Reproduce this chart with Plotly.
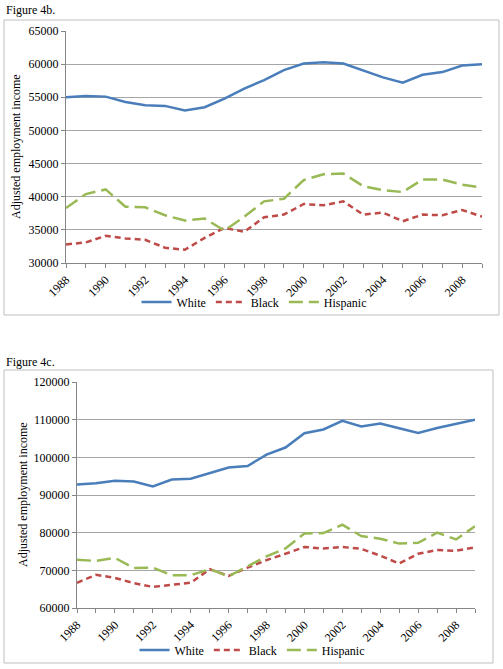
import plotly.graph_objects as go

years = list(range(1988, 2010))
tick_years = list(range(1988, 2009, 2))

# Figure 4b
white_b = [55000, 55200, 55100, 54300, 53800, 53700, 53000, 53500, 54800, 56300, 57600,
           59100, 60100, 60300, 60100, 59000, 58000, 57200, 58400, 58800, 59800, 60000]
black_b = [32800, 33100, 34100, 33700, 33500, 32300, 32000, 33800, 35300, 34700, 36900,
           37300, 38900, 38700, 39300, 37300, 37600, 36300, 37300, 37200, 38000, 37000]
hisp_b = [38300, 40400, 41100, 38500, 38400, 37200, 36400, 36700, 34900, 37000, 39300,
          39700, 42500, 43400, 43500, 41600, 41000, 40700, 42600, 42600, 41800, 41400]

# Figure 4c
white_c = [92800, 93100, 93800, 93600, 92300, 94100, 94300, 95900, 97300, 97700, 100700,
           102600, 106400, 107400, 109700, 108200, 109000, 107700, 106500, 107800, 109000, 110000]
black_c = [66700, 68800, 68000, 66600, 65600, 66200, 66700, 70300, 68500, 70700, 72700,
           74400, 76200, 75800, 76200, 75700, 73900, 71800, 74400, 75400, 75200, 76100]
hisp_c = [72800, 72500, 73300, 70600, 70700, 68700, 68700, 70300, 68400, 71100, 73700,
          75800, 79800, 79900, 82100, 79100, 78400, 77100, 77300, 80000, 78200, 81700]

W, H = 503, 669
FONT = "Liberation Serif"
C_WHITE, C_BLACK, C_HISP = "#4A7EBB", "#BE4B48", "#98B954"
GRID = "#a6a6a6"

def px(x):
    return x / W

def py(y):
    return 1 - y / H

fig = go.Figure()

series = [
    ("White", C_WHITE, "solid"),
    ("Black", C_BLACK, "6px,4px"),
    ("Hispanic", C_HISP, "14px,6px"),
]

for (name, col, dash), vals in zip(series, [white_b, black_b, hisp_b]):
    fig.add_trace(go.Scatter(x=years, y=vals, name=name, mode="lines",
                             line=dict(color=col, width=2.5, dash=dash),
                             xaxis="x", yaxis="y", legend="legend"))
for (name, col, dash), vals in zip(series, [white_c, black_c, hisp_c]):
    fig.add_trace(go.Scatter(x=years, y=vals, name=name, mode="lines",
                             line=dict(color=col, width=2.5, dash=dash),
                             xaxis="x2", yaxis="y2", legend="legend2"))

xcommon = dict(range=[1988, 2009], tickvals=tick_years, tickangle=-45,
               ticks="outside", ticklen=4, tickcolor="#868686",
               showline=True, linecolor="#868686", linewidth=1,
               showgrid=False, zeroline=False, automargin=False,
               minor=dict(dtick=1, tick0=1988, ticks="outside", ticklen=4,
                          tickcolor="#868686", showgrid=False),
               tickfont=dict(family=FONT, size=12, color="#000"))
ycommon = dict(ticks="outside", ticklen=4, tickcolor="#868686",
               showline=True, linecolor="#868686", linewidth=1,
               showgrid=True, gridcolor=GRID, gridwidth=1, zeroline=False,
               automargin=False,
               tickformat="d", tickfont=dict(family=FONT, size=12, color="#000"))

legend_common = dict(orientation="h", xanchor="center", yanchor="middle",
                     font=dict(family=FONT, size=12), itemwidth=30,
                     bgcolor="rgba(0,0,0,0)")

fig.update_layout(
    width=W, height=H,
    margin=dict(l=0, r=0, t=0, b=0),
    paper_bgcolor="white", plot_bgcolor="white",
    font=dict(family=FONT, size=12, color="#000"),
    xaxis=dict(domain=[px(66), px(482)], anchor="y", **xcommon),
    yaxis=dict(domain=[py(263), py(31)], anchor="x", range=[30000, 65000],
               dtick=5000, **ycommon),
    xaxis2=dict(domain=[px(77), px(475)], anchor="y2", **xcommon),
    yaxis2=dict(domain=[py(608), py(382)], anchor="x2", range=[60000, 120000],
                dtick=10000, **ycommon),
    legend=dict(x=px(254), y=py(302), **legend_common),
    legend2=dict(x=px(252), y=py(650), **legend_common),
    shapes=[
        dict(type="rect", xref="paper", yref="paper", x0=px(4), x1=px(499), y0=py(315), y1=py(20),
             line=dict(color="#bfbfbf", width=1), layer="below"),
        dict(type="rect", xref="paper", yref="paper", x0=px(4), x1=px(493), y0=py(663), y1=py(370),
             line=dict(color="#bfbfbf", width=1), layer="below"),
    ],
    annotations=[
        dict(text="Figure 4b.", xref="paper", yref="paper", x=px(4), y=py(10), xanchor="left",
             yanchor="middle", showarrow=False, font=dict(family=FONT, size=12)),
        dict(text="Figure 4c.", xref="paper", yref="paper", x=px(4), y=py(362), xanchor="left",
             yanchor="middle", showarrow=False, font=dict(family=FONT, size=12)),
        dict(text="Adjusted employment income", xref="paper", yref="paper", x=px(16), y=py(147),
             xanchor="center", yanchor="middle", textangle=-90, showarrow=False,
             font=dict(family=FONT, size=12)),
        dict(text="Adjusted employment income", xref="paper", yref="paper", x=px(23), y=py(495),
             xanchor="center", yanchor="middle", textangle=-90, showarrow=False,
             font=dict(family=FONT, size=12)),
    ],
)

fig.write_html("out.html", config={"displayModeBar": False},
               post_script="document.body.style.margin='0';document.body.style.overflow='hidden';")
